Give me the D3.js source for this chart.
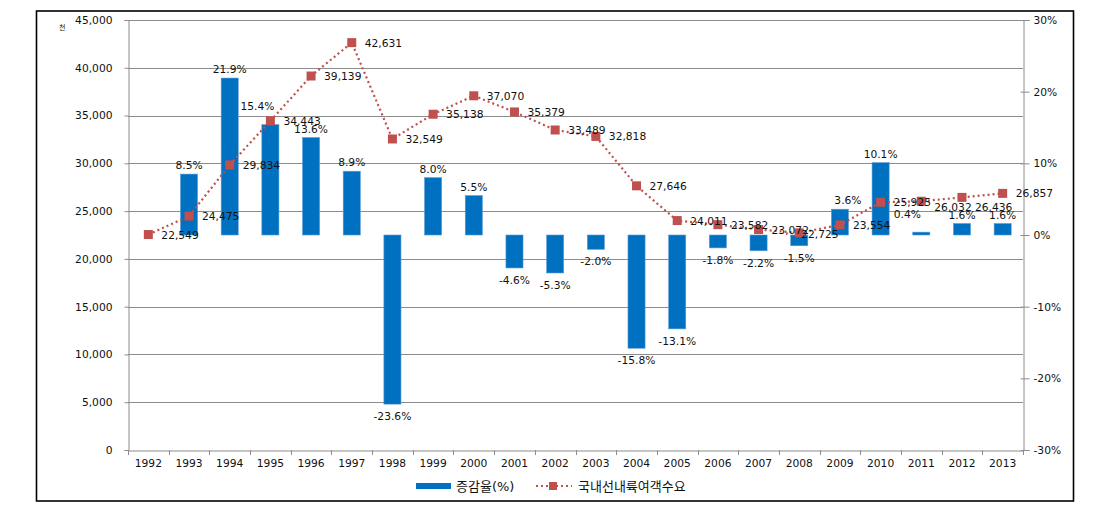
<!DOCTYPE html>
<html>
<head>
<meta charset="utf-8">
<script src="https://cdn.jsdelivr.net/npm/d3@7/dist/d3.min.js"></script>
<style>
  html, body { margin: 0; padding: 0; background: #fff; }
  svg { display: block; }
  text { font-family: "DejaVu Sans", "Noto Sans CJK KR", sans-serif; fill: #111; }
</style>
</head>
<body>
<svg id="chart" width="1101" height="511"></svg>
<script>
// ---- data ----
const years = ["1992","1993","1994","1995","1996","1997","1998","1999","2000","2001","2002",
               "2003","2004","2005","2006","2007","2008","2009","2010","2011","2012","2013"];
const demand = [22549, 24475, 29834, 34443, 39139, 42631, 32549, 35138, 37070, 35379, 33489,
                32818, 27646, 24011, 23582, 23072, 22725, 23554, 25925, 26032, 26436, 26857];
const growth = [null, 8.5, 21.9, 15.4, 13.6, 8.9, -23.6, 8.0, 5.5, -4.6, -5.3,
                -2.0, -15.8, -13.1, -1.8, -2.2, -1.5, 3.6, 10.1, 0.4, 1.6, 1.6];
const leftTicks = [0, 5000, 10000, 15000, 20000, 25000, 30000, 35000, 40000, 45000];
const rightTicks = [-30, -20, -10, 0, 10, 20, 30];
const seriesNames = ["증감율(%)", "국내선내륙여객수요"];
const unitLabel = "천";

// ---- layout ----
const svg = d3.select("#chart");
const plot = { left: 128, right: 1023, top: 20, bottom: 450 };
const BLUE = "#0070C0", RED = "#C0504D", GRID = "#8c8c8c";
const FS = 10.7;
const hyph = s => s.replace(/\u2212/g, "-");

// outer border
svg.append("rect").attr("x", 36.5).attr("y", 11).attr("width", 1037).attr("height", 490)
  .attr("fill", "none").attr("stroke", "#000").attr("stroke-width", 1.6);

const x = d3.scaleBand().domain(years).range([plot.left, plot.right])
  .paddingInner(0.58).paddingOuter(0.29);
const yL = d3.scaleLinear().domain([0, 45000]).range([plot.bottom, plot.top]);
const yR = d3.scaleLinear().domain([-30, 30]).range([plot.bottom, plot.top]);
const cx = d => x(d) + x.bandwidth() / 2;

// gridlines
svg.append("g").selectAll("line").data(leftTicks.filter(t => t > 0)).join("line")
  .attr("x1", plot.left).attr("x2", plot.right)
  .attr("y1", d => Math.round(yL(d)) + 0.5).attr("y2", d => Math.round(yL(d)) + 0.5)
  .attr("stroke", GRID).attr("stroke-width", 1);

// left axis
const gL = svg.append("g").attr("transform", `translate(${plot.left + 0.5},0)`)
  .call(d3.axisLeft(yL).tickValues(leftTicks).tickFormat(d3.format(",")).tickSize(4).tickPadding(12));
gL.select(".domain").attr("stroke", GRID);
gL.selectAll(".tick line").attr("stroke", GRID);
gL.selectAll("text").attr("font-size", FS).attr("font-family", "DejaVu Sans").attr("fill", "#111");

// right axis
const gR = svg.append("g").attr("transform", `translate(${plot.right + 0.5},0)`)
  .call(d3.axisRight(yR).tickValues(rightTicks).tickFormat(d => String(d) + "%").tickSize(6).tickPadding(4));
gR.select(".domain").attr("stroke", GRID);
gR.selectAll(".tick line").attr("stroke", GRID).attr("x1", -3);
gR.selectAll("text").attr("font-size", FS).attr("font-family", "DejaVu Sans").attr("fill", "#111");

// x axis
const gX = svg.append("g").attr("transform", `translate(0,${plot.bottom + 0.5})`)
  .call(d3.axisBottom(x).tickSize(0).tickPadding(9));
gX.select(".domain").attr("stroke", GRID);
gX.selectAll("text").attr("font-size", FS).attr("font-family", "DejaVu Sans").attr("fill", "#111");
const step = x.step();
svg.append("g").selectAll("line").data(d3.range(years.length + 1)).join("line")
  .attr("x1", i => Math.round(plot.left + i * step) + 0.5)
  .attr("x2", i => Math.round(plot.left + i * step) + 0.5)
  .attr("y1", plot.bottom).attr("y2", plot.bottom + 5)
  .attr("stroke", GRID);

// unit label
svg.append("text").attr("x", 59).attr("y", 30).attr("font-size", 7)
  .attr("fill", "#333").text(unitLabel);

// bars (right axis)
const barData = years.map((y, i) => ({ year: y, v: growth[i] })).filter(d => d.v !== null);
svg.append("g").selectAll("rect").data(barData).join("rect")
  .attr("x", d => x(d.year)).attr("width", x.bandwidth())
  .attr("y", d => yR(Math.max(0, d.v)))
  .attr("height", d => Math.abs(yR(d.v) - yR(0)))
  .attr("fill", BLUE).attr("stroke", "#5b9bd5").attr("stroke-width", 0.6);

// bar labels
const barLabelShift = { "1995": [-13, -10], "2011": [-14, -9], "2009": [8, 0] };
svg.append("g").selectAll("text").data(barData).join("text")
  .attr("text-anchor", "middle").attr("font-size", FS)
  .attr("x", d => cx(d.year) + (barLabelShift[d.year] ? barLabelShift[d.year][0] : 0))
  .attr("y", d => (d.v >= 0 ? yR(d.v) - 5 : yR(d.v) + 16) + (barLabelShift[d.year] ? barLabelShift[d.year][1] : 0))
  .text(d => hyph(d3.format(".1f")(d.v)) + "%");

// line (left axis)
const lineData = years.map((y, i) => ({ year: y, v: demand[i] }));
svg.append("path").datum(lineData)
  .attr("d", d3.line().x(d => cx(d.year)).y(d => yL(d.v)))
  .attr("fill", "none").attr("stroke", RED).attr("stroke-width", 2.2)
  .attr("stroke-dasharray", "2,3");
svg.append("g").selectAll("rect").data(lineData).join("rect")
  .attr("x", d => cx(d.year) - 4.5).attr("y", d => yL(d.v) - 4.5)
  .attr("width", 9).attr("height", 9).attr("fill", RED);

// line labels
const lineLabelShift = { "2008": [-11, 1], "2011": [0, 6], "2012": [0, 10] };
svg.append("g").selectAll("text").data(lineData).join("text")
  .attr("font-size", FS)
  .attr("x", d => cx(d.year) + 13 + (lineLabelShift[d.year] ? lineLabelShift[d.year][0] : 0))
  .attr("y", d => yL(d.v) + 4 + (lineLabelShift[d.year] ? lineLabelShift[d.year][1] : 0))
  .text(d => d3.format(",")(d.v));

// legend
const lg = svg.append("g");
lg.append("rect").attr("x", 416).attr("y", 483).attr("width", 35).attr("height", 6).attr("fill", BLUE);
lg.append("text").attr("x", 456).attr("y", 491).attr("font-size", 13)
  .attr("font-family", "Noto Sans CJK KR").text(seriesNames[0]);
lg.append("line").attr("x1", 536).attr("x2", 572).attr("y1", 486).attr("y2", 486)
  .attr("stroke", RED).attr("stroke-width", 2.2).attr("stroke-dasharray", "2,3");
lg.append("rect").attr("x", 549).attr("y", 482).attr("width", 8).attr("height", 8).attr("fill", RED);
lg.append("text").attr("x", 578).attr("y", 491).attr("font-size", 13)
  .attr("font-family", "Noto Sans CJK KR").text(seriesNames[1]);
</script>
</body>
</html>
